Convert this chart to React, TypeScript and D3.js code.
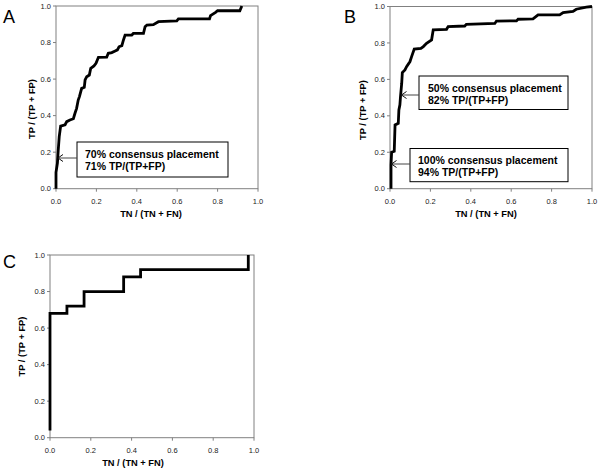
import React from "react";
import * as d3 from "d3";

const ticks = [0, 0.2, 0.4, 0.6, 0.8, 1.0];

const aX = [0, 0, 0.007, 0.011, 0.016, 0.023, 0.045, 0.053, 0.069, 0.086, 0.094, 0.102, 0.11, 0.116, 0.127, 0.14, 0.144, 0.152, 0.165, 0.172, 0.188, 0.198, 0.21, 0.251, 0.259, 0.276, 0.293, 0.304, 0.312, 0.326, 0.334, 0.342, 0.375, 0.383, 0.433, 0.441, 0.45, 0.482, 0.507, 0.598, 0.606, 0.76, 0.765, 0.79, 0.8, 0.91, 0.92];
const aY = [0, 0.09, 0.14, 0.21, 0.285, 0.343, 0.35, 0.367, 0.376, 0.383, 0.413, 0.44, 0.485, 0.504, 0.549, 0.555, 0.595, 0.613, 0.622, 0.659, 0.672, 0.686, 0.719, 0.72, 0.741, 0.745, 0.754, 0.76, 0.777, 0.783, 0.814, 0.841, 0.841, 0.85, 0.85, 0.887, 0.896, 0.898, 0.914, 0.918, 0.929, 0.929, 0.947, 0.965, 0.974, 0.974, 1.0];

const bX = [0.005, 0.005, 0.008, 0.021, 0.025, 0.041, 0.044, 0.049, 0.052, 0.058, 0.061, 0.074, 0.082, 0.099, 0.107, 0.12, 0.153, 0.165, 0.181, 0.206, 0.214, 0.28, 0.288, 0.37, 0.378, 0.519, 0.527, 0.626, 0.634, 0.708, 0.733, 0.84, 0.857, 0.906, 0.922, 0.972, 1.0];
const bY = [0, 0.13, 0.2, 0.205, 0.35, 0.359, 0.432, 0.46, 0.505, 0.579, 0.637, 0.652, 0.67, 0.698, 0.725, 0.766, 0.77, 0.78, 0.798, 0.817, 0.872, 0.875, 0.89, 0.893, 0.902, 0.907, 0.92, 0.921, 0.93, 0.932, 0.954, 0.954, 0.967, 0.973, 0.985, 0.996, 1.0];

const cX = [0, 0, 0.083, 0.167, 0.361, 0.444, 0.972];
const cY = [0.04, 0.68, 0.72, 0.8, 0.88, 0.92, 1.0];

const xTitle = "TN / (TN + FN)";
const yTitle = "TP / (TP + FP)";

const FONT = "'Liberation Sans', Arial, sans-serif";

type Ann = { lines: string[]; box: [number, number, number, number]; ay: number; ax: number; tx: number; b1: number };

type PanelProps = {
  letter: string;
  lx: number;
  ly: number;
  x0: number;
  x1: number;
  y0: number;
  y1: number;
  xs: number[];
  ys: number[];
  step?: boolean;
  xtx: number;
  ytx: number;
  yty: number;
  anns: Ann[];
};

function Panel(p: PanelProps) {
  const x = d3.scaleLinear().domain([0, 1]).range([p.x0, p.x1]);
  const y = d3.scaleLinear().domain([0, 1]).range([p.y1, p.y0]);
  const pts: [number, number][] = p.xs.map((v, i) => [v, p.ys[i]]);
  const line = d3
    .line<[number, number]>()
    .x((d) => x(d[0]))
    .y((d) => y(d[1]))
    .curve(p.step ? d3.curveStepAfter : d3.curveLinear);
  const fmt = d3.format(".1f");
  return (
    <g>
      <text x={p.lx} y={p.ly} fontSize={18} fontFamily={FONT}>
        {p.letter}
      </text>
      <rect x={p.x0} y={p.y0} width={p.x1 - p.x0} height={p.y1 - p.y0} fill="white" stroke="#808080" strokeWidth={1} />
      {ticks.map((t) => (
        <g key={"x" + t}>
          <line x1={x(t)} x2={x(t)} y1={p.y1} y2={p.y1 + 3} stroke="#808080" />
          <text x={x(t)} y={p.y1 + 15} fontSize={7.5} fontFamily={FONT} textAnchor="middle" fill="#222">
            {fmt(t)}
          </text>
        </g>
      ))}
      {ticks.map((t) => (
        <g key={"y" + t}>
          <line x1={p.x0 - 3} x2={p.x0} y1={y(t)} y2={y(t)} stroke="#808080" />
          <text x={p.x0 - 5} y={y(t)} dy="0.35em" fontSize={7.5} fontFamily={FONT} textAnchor="end" fill="#222">
            {fmt(t)}
          </text>
        </g>
      ))}
      <path d={line(pts) || ""} fill="none" stroke="black" strokeWidth={2.8} strokeLinejoin="miter" />
      <text x={p.xtx} y={p.y1 + 28} fontSize={9.3} fontWeight="bold" fontFamily={FONT} textAnchor="middle">
        {xTitle}
      </text>
      <text
        transform={`translate(${p.ytx},${p.yty}) rotate(-90)`}
        dy="0.35em"
        fontSize={9.3}
        fontWeight="bold"
        fontFamily={FONT}
        textAnchor="middle"
      >
        {yTitle}
      </text>
      {p.anns.map((a, i) => (
        <g key={i}>
          <rect x={a.box[0]} y={a.box[1]} width={a.box[2] - a.box[0]} height={a.box[3] - a.box[1]} fill="white" stroke="black" strokeWidth={1} />
          <line x1={a.box[0]} x2={a.ax} y1={a.ay} y2={a.ay} stroke="#444" strokeWidth={1} />
          <path d={`M${a.ax + 5},${a.ay - 3.5} L${a.ax},${a.ay} L${a.ax + 5},${a.ay + 3.5}`} fill="none" stroke="#111" strokeWidth={1} />
          {a.lines.map((l, j) => (
            <text key={j} x={a.tx} y={a.b1 + j * 12.5} fontSize={10.5} fontWeight="bold" fontFamily={FONT}>
              {l}
            </text>
          ))}
        </g>
      ))}
    </g>
  );
}

export default function App() {
  return (
    <svg width={601} height={471} style={{ position: "absolute", left: 0, top: 0, background: "white" }}>
      <rect width={601} height={471} fill="white" />
      <Panel
        letter="A"
        lx={3}
        ly={23}
        x0={56}
        x1={258}
        y0={6}
        y1={188.7}
        xs={aX}
        ys={aY}
        xtx={151}
        ytx={31.7}
        yty={109}
        anns={[
          { lines: ["70% consensus placement", "71% TP/(TP+FP)"], box: [77, 142, 228, 177], ay: 158, ax: 58, tx: 85, b1: 157.5 },
        ]}
      />
      <Panel
        letter="B"
        lx={344}
        ly={23}
        x0={390}
        x1={592}
        y0={6.5}
        y1={188.7}
        xs={bX}
        ys={bY}
        xtx={486}
        ytx={363}
        yty={110}
        anns={[
          { lines: ["50% consensus placement", "82% TP/(TP+FP)"], box: [419, 76, 568, 109.5], ay: 95, ax: 401.5, tx: 428, b1: 91.7 },
          { lines: ["100% consensus placement", "94% TP/(TP+FP)"], box: [410, 148.5, 568, 181.7], ay: 164, ax: 391.5, tx: 418, b1: 163.5 },
        ]}
      />
      <Panel
        letter="C"
        lx={3}
        ly={268}
        x0={50}
        x1={254}
        y0={255}
        y1={437.7}
        xs={cX}
        ys={cY}
        step
        xtx={133}
        ytx={21.7}
        yty={346.5}
        anns={[]}
      />
    </svg>
  );
}
